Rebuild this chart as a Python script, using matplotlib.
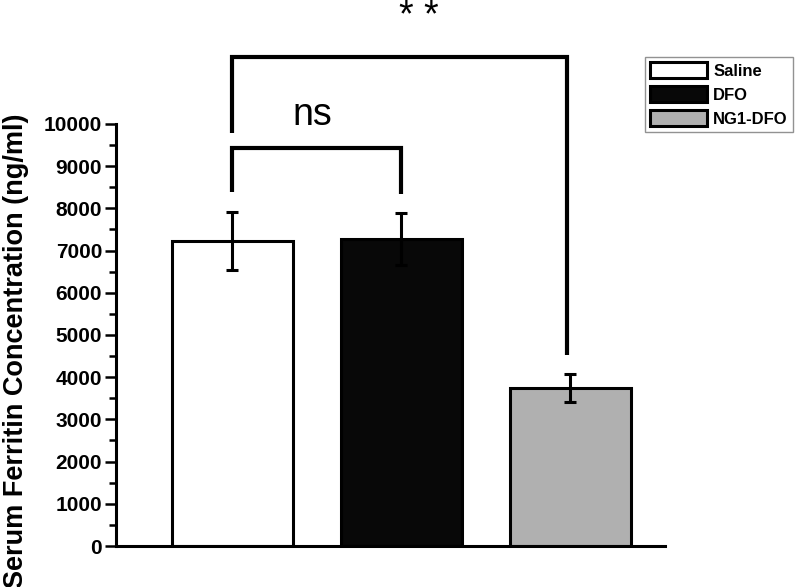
import matplotlib
matplotlib.use("Agg")
import matplotlib.pyplot as plt
from matplotlib.patches import Patch
from matplotlib.ticker import FixedLocator

# donnees
groupes = ['Saline', 'DFO', 'NG1-DFO']
moyennes = [7230, 7270, 3750]
erreurs = [690, 620, 330]
couleurs = ['white', '#080808', '#b0b0b0']

# crochets de significativite : (x gauche, x droite, y haut, bas gauche, bas droite, texte, x texte, y texte)
crochets = [
    (0, 1, 9430, 8390, 8330, 'ns', 0.47, 10210),
    (0, 1.98, 11590, 9790, 4530, '* *', 1.10, 12540),
]

plt.rcParams['font.family'] = ['Liberation Sans', 'DejaVu Sans']

fig = plt.figure(figsize=(8, 5.87), dpi=100)
ax = fig.add_axes([116 / 800, 41 / 587, 684 / 800, 546 / 587])

x = list(range(len(groupes)))
ax.bar(x, moyennes, width=0.72, color=couleurs, edgecolor='black', linewidth=2.2, zorder=2)
ax.errorbar(x, moyennes, yerr=erreurs, fmt='none', ecolor='black',
            elinewidth=2.2, capsize=4.5, capthick=2.2, zorder=3)

for xg, xd, yh, bg, bd, txt, xt, yt in crochets:
    ax.plot([xg, xg, xd, xd], [bg, yh, yh, bd], color='black', lw=3,
            solid_capstyle='butt', solid_joinstyle='miter', clip_on=False)
    ax.text(xt, yt, txt, ha='center', va='center', fontsize=27, clip_on=False)

ax.set_xlim(-0.689, 3.358)
ax.set_ylim(0, 12938)
ax.set_yticks(range(0, 10001, 1000))
ax.yaxis.set_minor_locator(FixedLocator(range(500, 10000, 1000)))
ax.set_xticks([])

for s in ['top', 'right']:
    ax.spines[s].set_visible(False)
ax.spines['left'].set_bounds(0, 10000)
ax.spines['bottom'].set_bounds(-0.689, 2.56)
ax.spines['left'].set_linewidth(2.2)
ax.spines['bottom'].set_linewidth(2.2)

ax.tick_params(axis='y', which='major', length=8, width=1.8, labelsize=15, pad=2)
ax.tick_params(axis='y', which='minor', length=5, width=1.8)
for lab in ax.get_yticklabels():
    lab.set_fontweight('bold')

ax.set_ylabel('Serum Ferritin Concentration (ng/ml)', fontsize=19.5, fontweight='bold')
ax.yaxis.set_label_coords(-0.127, 0.357)

handles = [Patch(facecolor=c, edgecolor='black', linewidth=2.2, label=g)
           for g, c in zip(groupes, couleurs)]
leg = fig.legend(handles=handles, loc='upper left', bbox_to_anchor=(645 / 800, 1 - 57 / 587),
                 frameon=True, fancybox=False, edgecolor='#777777', fontsize=12,
                 handlelength=3.4, handleheight=1.1, handletextpad=0.4,
                 labelspacing=0.45, borderpad=0.3, borderaxespad=0)
for t in leg.get_texts():
    t.set_fontweight('bold')

fig.savefig('out.png', dpi=100)
